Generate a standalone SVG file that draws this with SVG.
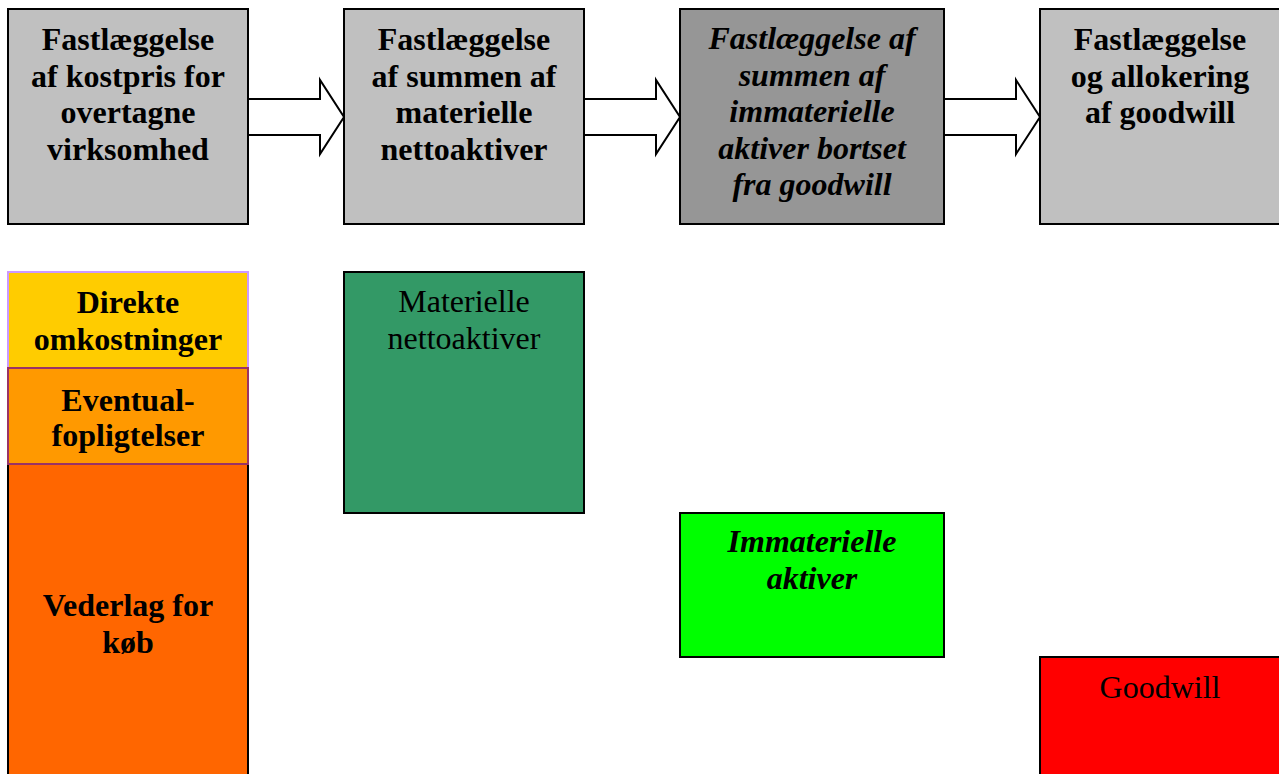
<svg xmlns="http://www.w3.org/2000/svg" width="1279" height="774" viewBox="0 0 1279 774">
  <style>
    .box { stroke: #000; stroke-width: 2; }
    .step { fill: #c0c0c0; }
    .t { font-family: "Liberation Serif", "Times New Roman", serif; font-size: 32px; text-anchor: middle; fill: #000; }
    .b { font-weight: bold; }
    .i { font-style: italic; }
    .arrow { fill: #fff; stroke: #000; stroke-width: 2; stroke-linejoin: miter; }
  </style>
  <rect width="1279" height="774" fill="#fff"/>

  <!-- process steps -->
  <g id="step1">
    <rect class="box step" x="8" y="9" width="240" height="215"/>
    <text class="t b" x="128" y="50">Fastlæggelse</text>
    <text class="t b" x="128" y="87">af kostpris for</text>
    <text class="t b" x="128" y="123">overtagne</text>
    <text class="t b" x="128" y="160">virksomhed</text>
  </g>
  <g id="step2">
    <rect class="box step" x="344" y="9" width="240" height="215"/>
    <text class="t b" x="464" y="50">Fastlæggelse</text>
    <text class="t b" x="464" y="87">af summen af</text>
    <text class="t b" x="464" y="123">materielle</text>
    <text class="t b" x="464" y="160">nettoaktiver</text>
  </g>
  <g id="step3">
    <rect class="box" x="680" y="9" width="264" height="215" fill="#969696"/>
    <text class="t b i" x="812" y="49">Fastlæggelse af</text>
    <text class="t b i" x="812" y="86">summen af</text>
    <text class="t b i" x="812" y="122">immaterielle</text>
    <text class="t b i" x="812" y="159">aktiver bortset</text>
    <text class="t b i" x="812" y="195">fra goodwill</text>
  </g>
  <g id="step4">
    <rect class="box step" x="1040" y="9" width="245" height="215"/>
    <text class="t b" x="1160" y="50">Fastlæggelse</text>
    <text class="t b" x="1160" y="87">og allokering</text>
    <text class="t b" x="1160" y="123">af goodwill</text>
  </g>

  <!-- block arrows between steps -->
  <g id="connectors">
    <polygon class="arrow" points="248,99 320,99 320,80 344,117 320,154 320,135 248,135"/>
    <polygon class="arrow" points="584,99 656,99 656,80 680,117 656,154 656,135 584,135"/>
    <polygon class="arrow" points="944,99 1016,99 1016,80 1040,117 1016,154 1016,135 944,135"/>
  </g>

  <!-- cost price stack -->
  <g id="direkte">
    <rect x="8" y="272" width="240" height="96" fill="#ffcc00" stroke="#cc99ff" stroke-width="2"/>
    <text class="t b" x="128" y="313">Direkte</text>
    <text class="t b" x="128" y="350">omkostninger</text>
  </g>
  <g id="vederlag">
    <rect x="8" y="464" width="240" height="320" fill="#ff6600" stroke="#000" stroke-width="2"/>
    <text class="t b" x="128" y="616">Vederlag for</text>
    <text class="t b" x="128" y="653">køb</text>
  </g>
  <g id="eventual">
    <rect x="8" y="368" width="240" height="96" fill="#ff9900" stroke="#993366" stroke-width="2"/>
    <text class="t b" x="128" y="411">Eventual-</text>
    <text class="t b" x="128" y="446">fopligtelser</text>
  </g>

  <!-- asset blocks -->
  <g id="materielle">
    <rect class="box" x="344" y="272" width="240" height="241" fill="#339966"/>
    <text class="t" x="464" y="312">Materielle</text>
    <text class="t" x="464" y="349">nettoaktiver</text>
  </g>
  <g id="immaterielle">
    <rect class="box" x="680" y="513" width="264" height="144" fill="#00ff00"/>
    <text class="t b i" x="812" y="552">Immaterielle</text>
    <text class="t b i" x="812" y="589">aktiver</text>
  </g>
  <g id="goodwill">
    <rect class="box" x="1040" y="657" width="245" height="130" fill="#ff0000"/>
    <text class="t" x="1160" y="698">Goodwill</text>
  </g>
</svg>
